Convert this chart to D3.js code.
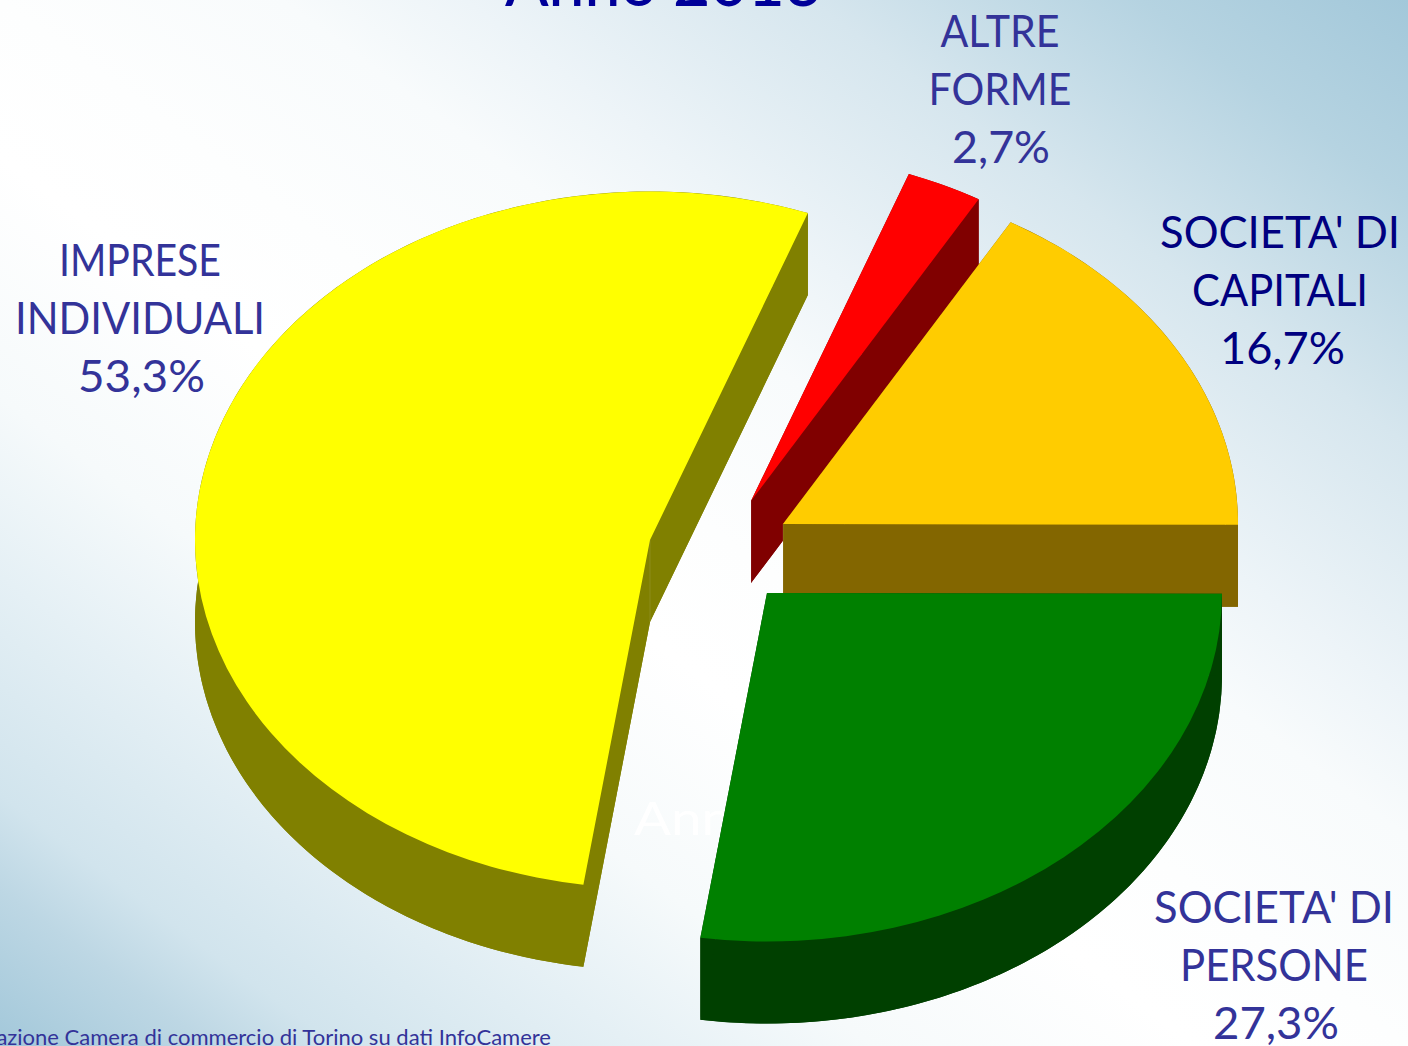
<!DOCTYPE html>
<html><head><meta charset="utf-8">
<script src="https://cdn.jsdelivr.net/npm/d3@7"></script>
<style>
html,body{margin:0;padding:0;width:1408px;height:1046px;overflow:hidden;background:#fff}
#bg{position:absolute;left:0;top:0;width:1408px;height:1046px}
svg{position:absolute;left:0;top:0}
text{font-family:Lato,"Open Sans",sans-serif}
</style></head><body><div id="bg"></div><div id="chart"></div>
<script>
// data, in pie order starting clockwise from the first cut
const categories = ["ALTRE FORME", "SOCIETA' DI CAPITALI", "SOCIETA' DI PERSONE", "IMPRESE INDIVIDUALI"];
const values = [2.7, 16.7, 27.3, 53.3];
const labelLines = [["ALTRE","FORME"],["SOCIETA' DI","CAPITALI"],["SOCIETA' DI","PERSONE"],["IMPRESE","INDIVIDUALI"]];
const percentLabels = ["2,7%","16,7%","27,3%","53,3%"];
const titleText = "Anno 2013";
const sourceText = "Elaborazione Camera di commercio di Torino su dati InfoCamere";

// styling and layout
const topColors = ["#ff0000","#ffcc00","#008000","#ffff00"];
const sideColors = ["#800000","#836600","#004000","#808000"];
const labelColors = ["#333399","#000080","#333399","#333399"];
const apexes = [[751,501],[783,524],[767,593],[650,540]];
const labelPos = [[1000,47],[1280,248],[1274,923],[140,276]];
const labelWidths = [[119,143],[240,176],[240,188],[162,250]];
const percentPos = [1001,1282.5,1276,141.5];
const percentWidths = [98,125,126,127];
const drawOrder = [3,0,1,2];
const W=1408,H=1046,R=455,squash=0.766,depth=82,startDeg=20.3;

// background: white band along the main diagonal, blue towards two corners
const bgStopAt = [-1,-0.85,-0.76,-0.55,-0.38,-0.15,0,0.2,0.33,0.575,0.81,1];
const bgMix = [1,0.72,0.5,0.28,0.1,0,0.02,0.08,0.2,0.45,0.8,1];
const bgColor = d3.interpolateRgb("#ffffff","#a3c8da");
d3.select("#bg").style("background","linear-gradient(to top right,"+
  bgStopAt.map((u,i)=>`${bgColor(bgMix[i])} ${(u+1)*50}%`).join(",")+")");

const svg=d3.select("#chart").append("svg").attr("width",W).attr("height",H);
const slices=d3.pie().sort(null).startAngle(startDeg*Math.PI/180).endAngle((startDeg+360)*Math.PI/180)(values);
const arc=d3.arc().innerRadius(0).outerRadius(R);
const px=a=>R*Math.sin(a), py=a=>-R*squash*Math.cos(a);
const line=d3.line();

function drawSlice(i){
  const s=slices[i],[ax,ay]=apexes[i];
  const g=svg.append("g").attr("transform",`translate(${ax},${ay})`);
  const dark=sideColors[i];
  const topSlice=(dy)=>g.append("path").attr("d",arc(s)).attr("transform",`translate(0,${dy}) scale(1,${squash})`);
  topSlice(depth).attr("fill",dark);
  const n=Math.max(8,Math.round((s.endAngle-s.startAngle)*60));
  const as=d3.range(n+1).map(k=>s.startAngle+(s.endAngle-s.startAngle)*k/n);
  const wall=as.map(a=>[px(a),py(a)]).concat(as.slice().reverse().map(a=>[px(a),py(a)+depth]));
  g.append("path").attr("d",line(wall)+"Z").attr("fill",dark);
  [s.startAngle,s.endAngle].forEach(a=>{
    g.append("path").attr("d",line([[0,0],[px(a),py(a)],[px(a),py(a)+depth],[0,depth]])+"Z")
     .attr("fill",dark);
  });
  // faint seam between the two cut faces at the apex
  g.append("path").attr("d",line([[0,0],[0,depth]])).attr("stroke","#fff").attr("stroke-opacity",0.1).attr("stroke-width",1);
  topSlice(0).attr("fill",topColors[i]);
}
drawOrder.forEach(i=>{
  if(i===2){
    svg.append("text").text(titleText).attr("x",634).attr("y",835).attr("font-size",46)
      .attr("textLength",270).attr("lengthAdjust","spacingAndGlyphs").attr("font-weight",400)
      .attr("fill","#fff");
  }
  drawSlice(i);
});

// labels
labelLines.forEach((ls,i)=>{
  const [x,y]=labelPos[i];
  const add=(t,ax,dy,w)=>svg.append("text").text(t).attr("x",ax).attr("y",y+dy).attr("text-anchor","middle")
    .attr("font-size",44).attr("fill",labelColors[i])
    .attr("textLength",w).attr("lengthAdjust","spacingAndGlyphs");
  ls.forEach((t,k)=>add(t,x,k*58,labelWidths[i][k]));
  add(percentLabels[i],percentPos[i],ls.length*58,percentWidths[i]);
});
svg.append("text").text(titleText).attr("x",663.5).attr("y",6).attr("text-anchor","middle")
  .attr("font-size",66).attr("font-weight",500).attr("fill","#000099")
  .attr("textLength",317).attr("lengthAdjust","spacingAndGlyphs");
svg.append("text").text(sourceText).attr("x",-65).attr("y",1045)
  .attr("font-size",21).attr("fill","#333399")
  .attr("textLength",616).attr("lengthAdjust","spacingAndGlyphs");
</script></body></html>
